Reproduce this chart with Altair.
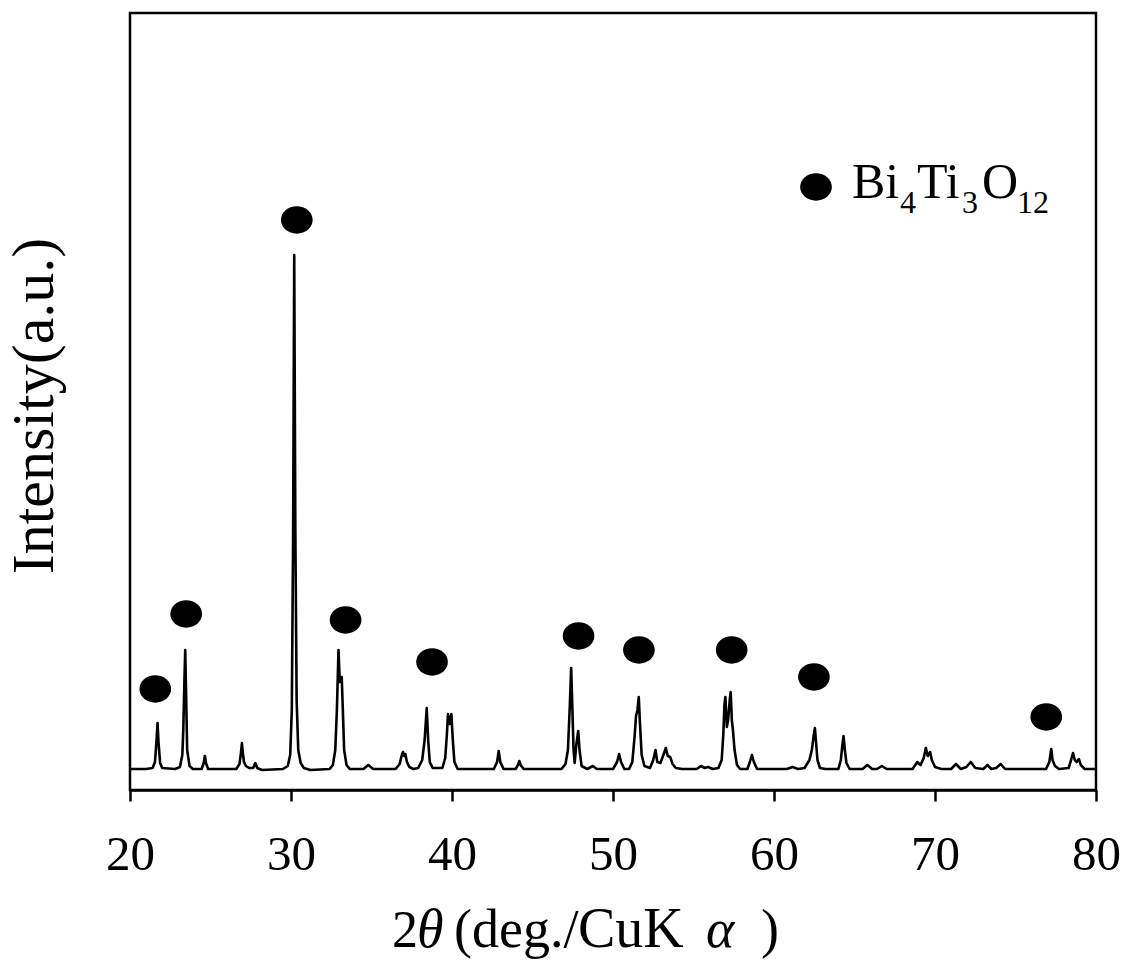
import altair as alt
import pandas as pd

# ---- XRD pattern (2theta in degrees, intensity in arbitrary units) ----
two_theta = [
    20.0, 21.0, 21.4, 21.55, 21.65, 21.71, 21.77, 21.87, 22.0,
    22.8, 23.1, 23.25, 23.31, 23.38, 23.43, 23.48, 23.55, 23.7, 23.9,
    24.45, 24.58, 24.65, 24.72, 24.85,
    26.6, 26.8, 26.9, 26.95, 27.0, 27.08, 27.2, 27.4, 27.65, 27.78, 27.9, 28.2,
    29.5, 29.8, 29.95, 30.05, 30.13, 30.2, 30.27, 30.35, 30.45, 30.6, 30.8, 31.2,
    32.4, 32.6, 32.75, 32.85, 32.95, 33.03, 33.1, 33.15, 33.22, 33.3, 33.45, 33.65,
    34.5, 34.8, 35.1,
    36.5, 36.75, 36.9, 36.96, 37.03, 37.1, 37.2, 37.35, 37.6,
    37.9, 38.15, 38.3, 38.43, 38.52, 38.62, 38.8,
    39.4, 39.58, 39.68, 39.75, 39.85, 39.96, 40.05, 40.15, 40.35,
    42.6, 42.8, 42.9, 43.0, 43.2,
    43.95, 44.1, 44.18, 44.26, 44.45,
    46.8, 47.05, 47.2, 47.32, 47.4, 47.48, 47.55, 47.62, 47.72, 47.84, 47.92, 48.05, 48.4, 48.75, 49.0,
    50.0, 50.25, 50.38, 50.5, 50.7,
    51.0, 51.2, 51.35, 51.43, 51.52, 51.6, 51.68, 51.78, 51.95, 52.3, 52.5, 52.64, 52.75, 52.95,
    53.15, 53.28, 53.4, 53.55, 53.7, 53.9, 54.3,
    55.2, 55.47, 55.7, 55.9, 56.2, 56.55, 56.75, 56.85, 56.92, 56.98, 57.07, 57.15, 57.25, 57.31,
    57.38, 57.45, 57.55, 57.7, 57.9,
    58.35, 58.5, 58.63, 58.75, 58.95,
    60.8, 61.15, 61.5,
    61.9, 62.2, 62.35, 62.47, 62.54, 62.6, 62.7, 62.85, 63.2,
    64.0, 64.15, 64.25, 64.32, 64.4, 64.5, 64.7,
    65.5, 65.8, 66.1, 66.4, 66.7, 67.0,
    68.6, 68.9, 69.1, 69.3, 69.43, 69.55, 69.7, 69.8, 70.0, 70.4,
    71.0, 71.3, 71.6, 71.95, 72.22, 72.5, 73.0, 73.26, 73.5, 73.8, 74.08, 74.35,
    76.9, 77.1, 77.22, 77.3, 77.45, 77.7,
    78.3, 78.45, 78.57, 78.68, 78.8, 78.94, 79.05, 79.3, 80.0,
]
intensity = [
    21, 21, 22, 28, 50, 67, 48, 27, 22,
    21, 23, 35, 60, 110, 140, 100, 40, 24, 21,
    21, 27, 34, 27, 21,
    21, 26, 38, 47, 38, 28, 24, 22, 22, 27, 22, 20,
    21, 24, 35, 80, 250, 535, 260, 90, 40, 27, 22, 20,
    21, 25, 40, 80, 140, 108, 112, 113, 80, 40, 25, 21,
    21, 25, 21,
    21, 26, 36, 38, 34, 36, 28, 23, 21,
    22, 30, 50, 82, 50, 28, 22,
    22, 32, 55, 76, 66, 76, 50, 28, 21,
    21, 28, 39, 28, 21,
    21, 25, 29, 25, 21,
    21, 26, 40, 85, 122, 80, 40, 27, 45, 59, 40, 24, 21, 24, 21,
    21, 28, 36, 28, 21,
    21, 28, 55, 74, 80, 93, 65, 35, 24, 22, 30, 40, 28, 27,
    36, 42, 34, 33, 26, 22, 21,
    21, 24, 22, 23, 21, 22, 30, 55, 85, 93, 63, 70, 90, 98,
    70, 60, 40, 25, 21,
    21, 28, 35, 28, 21,
    21, 23, 21,
    22, 30, 40, 55, 62, 50, 30, 22, 21,
    21, 30, 45, 54, 40, 27, 21,
    21, 25, 21, 21, 24, 21,
    21, 28, 25, 32, 42, 34, 38, 30, 23, 21,
    21, 26, 21, 23, 28, 22, 21, 25, 21, 22, 26, 21,
    21, 28, 41, 30, 24, 21,
    22, 30, 37, 30, 28, 31, 25, 21, 21,
]

# ---- Bi4Ti3O12 peak markers ----
marker_theta = [21.57, 23.49, 30.36, 33.39, 38.76, 47.86, 51.61, 57.37, 62.48, 76.91]
marker_height = [101, 176, 570, 170, 128, 154, 140, 140, 113, 73]

x_ticks = [20, 30, 40, 50, 60, 70, 80]

FONT = "Liberation Serif"
ELLIPSE = ("M-1,0C-1,-0.475,-0.552,-0.86,0,-0.86C0.552,-0.86,1,-0.475,1,0"
           "C1,0.475,0.552,0.86,0,0.86C-0.552,0.86,-1,0.475,-1,0Z")

x_scale = alt.Scale(domain=[20, 80], nice=False, zero=False)
y_scale = alt.Scale(domain=[0, 777], nice=False, zero=False)
x_axis = alt.Axis(values=x_ticks, title=None, grid=False, tickSize=11, tickWidth=2.5,
                  tickColor="black", domainColor="black", domainWidth=2.5,
                  labelFont=FONT, labelFontSize=49, labelColor="black",
                  labelPadding=29, labelFlush=False)

pattern = pd.DataFrame({"two_theta": two_theta, "intensity": intensity})
markers = pd.DataFrame({"two_theta": marker_theta, "intensity": marker_height})

line = alt.Chart(pattern).mark_line(color="black", strokeWidth=2.6, strokeJoin="round").encode(
    x=alt.X("two_theta:Q", scale=x_scale, axis=x_axis),
    y=alt.Y("intensity:Q", scale=y_scale, axis=None),
)

dots = alt.Chart(markers).mark_point(shape=ELLIPSE, filled=True, color="black",
                                     opacity=1, size=1005).encode(
    x=alt.X("two_theta:Q", scale=x_scale, axis=x_axis),
    y=alt.Y("intensity:Q", scale=y_scale, axis=None),
)


def label(text, x, y, size, align="left", baseline="alphabetic", style="normal", angle=0):
    return alt.Chart(alt.Data(values=[{"label": text}])).mark_text(
        font=FONT, fontSize=size, align=align, baseline=baseline,
        fontStyle=style, angle=angle, color="black"
    ).encode(text="label:N", x=alt.value(x), y=alt.value(y))


legend_dot = alt.Chart(alt.Data(values=[{"k": 1}])).mark_point(
    shape=ELLIPSE, filled=True, color="black", opacity=1, size=1005
).encode(x=alt.value(686), y=alt.value(174))

texts = [
    # legend
    label("Bi", 722, 185, 50),
    label("4", 770, 200, 32),
    label("Ti", 787, 185, 50),
    label("3", 832, 200, 32),
    label("O", 852, 185, 50),
    label("12", 887, 200, 32),
    # x title
    label("2", 262, 934, 52),
    label("θ", 287, 934, 54, style="italic"),
    label("(deg./", 324, 934, 54),
    label("CuK", 448, 934, 56),
    label("α", 576, 934, 54, style="italic"),
    label(")", 631, 934, 54),
    # y title
    label("Intensity(a.u.)", -77, 393, 60, align="center", angle=270),
]

chart = alt.layer(line, dots, legend_dot, *texts).properties(
    width=966, height=777,
    padding={"left": 130, "top": 13, "right": 31, "bottom": 178},
    autosize=alt.AutoSizeParams(type="none"),
    background="white",
).configure_view(stroke="black", strokeWidth=2.5)

chart.save("out.html", embed_options={"renderer": "svg", "actions": False})
